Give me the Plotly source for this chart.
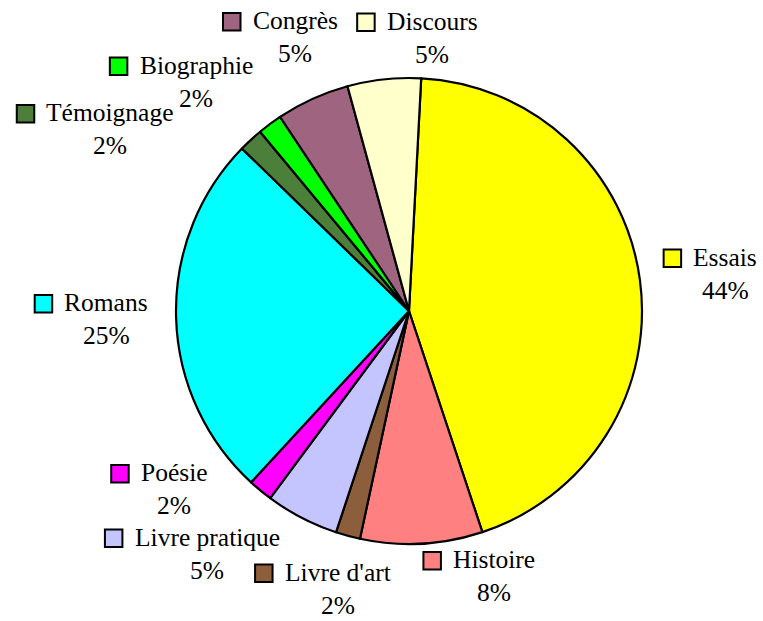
import plotly.graph_objects as go

# ---- data ----
categories = ["Essais", "Histoire", "Livre d'art", "Livre pratique", "Poésie",
              "Romans", "Témoignage", "Biographie", "Congrès", "Discours"]
counts = [26, 5, 1, 3, 1, 15, 1, 1, 3, 3]
colors = ["#FFFF00", "#FF8080", "#8C5E3C", "#C4C4FF", "#FF00FF",
          "#00FFFF", "#4B7F3A", "#00FF00", "#9E6480", "#FFFFCC"]

# ---- layout constants ----
W, H = 763, 621
CX, CY, R = 409, 311, 233
FONT = "Liberation Serif, Times New Roman, serif"
FS = 25.5
LINE_GAP = 33
SQ = 17.5

# label placement (text centre x, first-line baseline y), in pixels
label_anchor = {
    "Essais": (725, 266),
    "Histoire": (494, 568.5),
    "Livre d'art": (337.5, 581),
    "Livre pratique": (207, 546),
    "Poésie": (174, 481.5),
    "Romans": (106, 311.5),
    "Témoignage": (110, 121.5),
    "Biographie": (196, 74),
    "Congrès": (295, 29.5),
    "Discours": (432, 30),
}

# Times / Liberation Serif advance widths (per 1000 em)
CW = {" ": 250, "'": 180, "%": 833, "B": 667, "C": 667, "D": 722, "E": 611,
      "H": 722, "L": 611, "P": 556, "R": 667, "T": 611, "a": 444, "b": 500,
      "c": 444, "d": 500, "e": 444, "g": 500, "h": 500, "i": 278, "m": 778,
      "n": 500, "o": 500, "p": 500, "q": 500, "r": 333, "s": 389, "t": 278,
      "u": 500, "v": 500, "é": 444, "è": 444}


def text_width(s):
    return sum(CW.get(c, 500) for c in s) * FS / 1000.0


def px(x):
    return x / W


def py(y):
    return 1 - y / H


total = sum(counts)

fig = go.Figure(go.Pie(
    labels=categories,
    values=counts,
    sort=False,
    direction="clockwise",
    rotation=3,
    marker=dict(colors=colors, line=dict(color="black", width=2.2)),
    textinfo="none",
    hoverinfo="label+percent",
    showlegend=False,
    domain=dict(x=[px(CX - R), px(CX + R)], y=[py(CY + R), py(CY - R)]),
))

annotations = []
shapes = []
BASE_OFF = 0.338 * FS
for cat, v, col in zip(categories, counts, colors):
    cx, base = label_anchor[cat]
    pct = f"{round(100 * v / total)}%"
    annotations.append(dict(
        x=px(cx), y=py(base - BASE_OFF), xref="paper", yref="paper",
        text=cat, showarrow=False, xanchor="center", yanchor="middle",
        font=dict(family=FONT, size=FS, color="black")))
    annotations.append(dict(
        x=px(cx), y=py(base + LINE_GAP - BASE_OFF), xref="paper", yref="paper",
        text=pct, showarrow=False, xanchor="center", yanchor="middle",
        font=dict(family=FONT, size=FS, color="black")))
    right = cx - text_width(cat) / 2 - 12
    shapes.append(dict(
        type="rect", xref="paper", yref="paper",
        x0=px(right - SQ), x1=px(right), y0=py(base + 1), y1=py(base + 1 - SQ),
        fillcolor=col, line=dict(color="black", width=2)))

fig.update_layout(
    width=W, height=H,
    margin=dict(l=0, r=0, t=0, b=0),
    paper_bgcolor="white", plot_bgcolor="white",
    font=dict(family=FONT, color="black"),
    annotations=annotations, shapes=shapes,
)

fig.write_html(
    "out.html",
    config={"displayModeBar": False},
    post_script="document.body.style.margin='0';document.body.style.padding='0';",
)
